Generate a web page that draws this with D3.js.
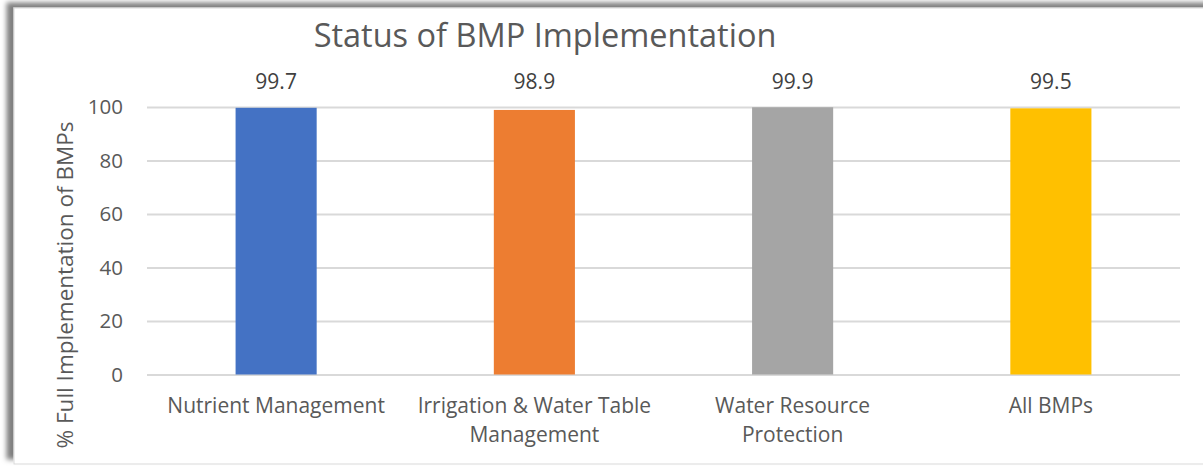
<!DOCTYPE html>
<html>
<head>
<meta charset="utf-8">
<script src="https://cdn.jsdelivr.net/npm/d3@7"></script>
<style>
  html, body { margin: 0; padding: 0; background: #fff; }
  svg { display: block; }
</style>
</head>
<body>
<svg id="chart"></svg>
<script>
const categories = ['Nutrient Management', 'Irrigation & Water Table Management', 'Water Resource Protection', 'All BMPs']
const categoryLines = [['Nutrient Management'], ['Irrigation & Water Table', 'Management'], ['Water Resource', 'Protection'], ['All BMPs']]
const values = [99.7, 98.9, 99.9, 99.5]
const barColors = ['#4472C4', '#ED7D31', '#A5A5A5', '#FFC000']
const yTicks = [0, 20, 40, 60, 80, 100]

const width = 1203
const height = 466
const plot = { left: 147, right: 1180, top: 107, bottom: 374.5 }
const textColor = '#595959'
const gridColor = '#d9d9d9'
const font = "'Open Sans', sans-serif"

const svg = d3.select('#chart')
  .attr('width', width)
  .attr('height', height)
  .attr('viewBox', `0 0 ${width} ${height}`)

// chart frame, shadow falls on top/left
const defs = svg.append('defs')
const shadow = defs.append('filter')
  .attr('id', 'shadow')
  .attr('x', '-5%').attr('y', '-10%')
  .attr('width', '110%').attr('height', '120%')
shadow.append('feDropShadow')
  .attr('dx', -7).attr('dy', -5)
  .attr('stdDeviation', 2.5)
  .attr('flood-color', '#000')
  .attr('flood-opacity', 0.5)

svg.append('rect')
  .attr('x', 14)
  .attr('y', 8)
  .attr('width', 1230)
  .attr('height', 456)
  .attr('fill', '#fff')
  .attr('stroke', gridColor)
  .attr('stroke-width', 1)
  .attr('filter', 'url(#shadow)')

const x = d3.scaleBand()
  .domain(categories)
  .range([plot.left, plot.right])
  .paddingInner(0.686)
  .paddingOuter(0.343)

const y = d3.scaleLinear()
  .domain([0, 100])
  .range([plot.bottom, plot.top])

// gridlines + tick labels
const yAxis = svg.append('g')
  .attr('transform', `translate(${plot.left},0)`)
  .call(d3.axisLeft(y).tickValues(yTicks).tickSize(-(plot.right - plot.left)).tickPadding(24))
yAxis.select('.domain').remove()
yAxis.selectAll('.tick line')
  .attr('stroke', gridColor)
  .attr('stroke-width', 2)
yAxis.selectAll('.tick text')
  .attr('fill', textColor)
  .attr('font-family', font)
  .attr('font-size', '20.5px')

// bars
svg.append('g')
  .selectAll('rect')
  .data(values)
  .join('rect')
  .attr('x', (d, i) => x(categories[i]))
  .attr('y', d => y(d))
  .attr('width', x.bandwidth())
  .attr('height', d => y(0) - y(d))
  .attr('fill', (d, i) => barColors[i])

// value labels
svg.append('g')
  .selectAll('text')
  .data(values)
  .join('text')
  .attr('x', (d, i) => x(categories[i]) + x.bandwidth() / 2)
  .attr('y', 89)
  .attr('text-anchor', 'middle')
  .attr('fill', '#404040')
  .attr('font-family', font)
  .attr('font-size', '21px')
  .text(d => d.toFixed(1))

// category labels
const xAxis = svg.append('g')
  .attr('transform', `translate(0,${plot.bottom})`)
  .call(d3.axisBottom(x).tickSize(0).tickFormat(''))
xAxis.select('.domain').remove()
xAxis.selectAll('.tick').each(function (d, i) {
  const t = d3.select(this).select('text')
    .attr('fill', textColor)
    .attr('font-family', font)
    .attr('font-size', '21px')
    .attr('y', 0)
    .attr('dy', null)
  categoryLines[i].forEach((line, j) => {
    t.append('tspan')
      .attr('x', 0)
      .attr('y', 38.5 + j * 29)
      .text(line)
  })
})

// titles
svg.append('text')
  .attr('x', 545)
  .attr('y', 47)
  .attr('text-anchor', 'middle')
  .attr('fill', textColor)
  .attr('font-family', font)
  .attr('font-size', '32.5px')
  .text('Status of BMP Implementation')

svg.append('text')
  .attr('transform', 'translate(73,285) rotate(-90)')
  .attr('text-anchor', 'middle')
  .attr('fill', textColor)
  .attr('font-family', font)
  .attr('font-size', '22.5px')
  .text('% Full Implementation of BMPs')
</script>
</body>
</html>
